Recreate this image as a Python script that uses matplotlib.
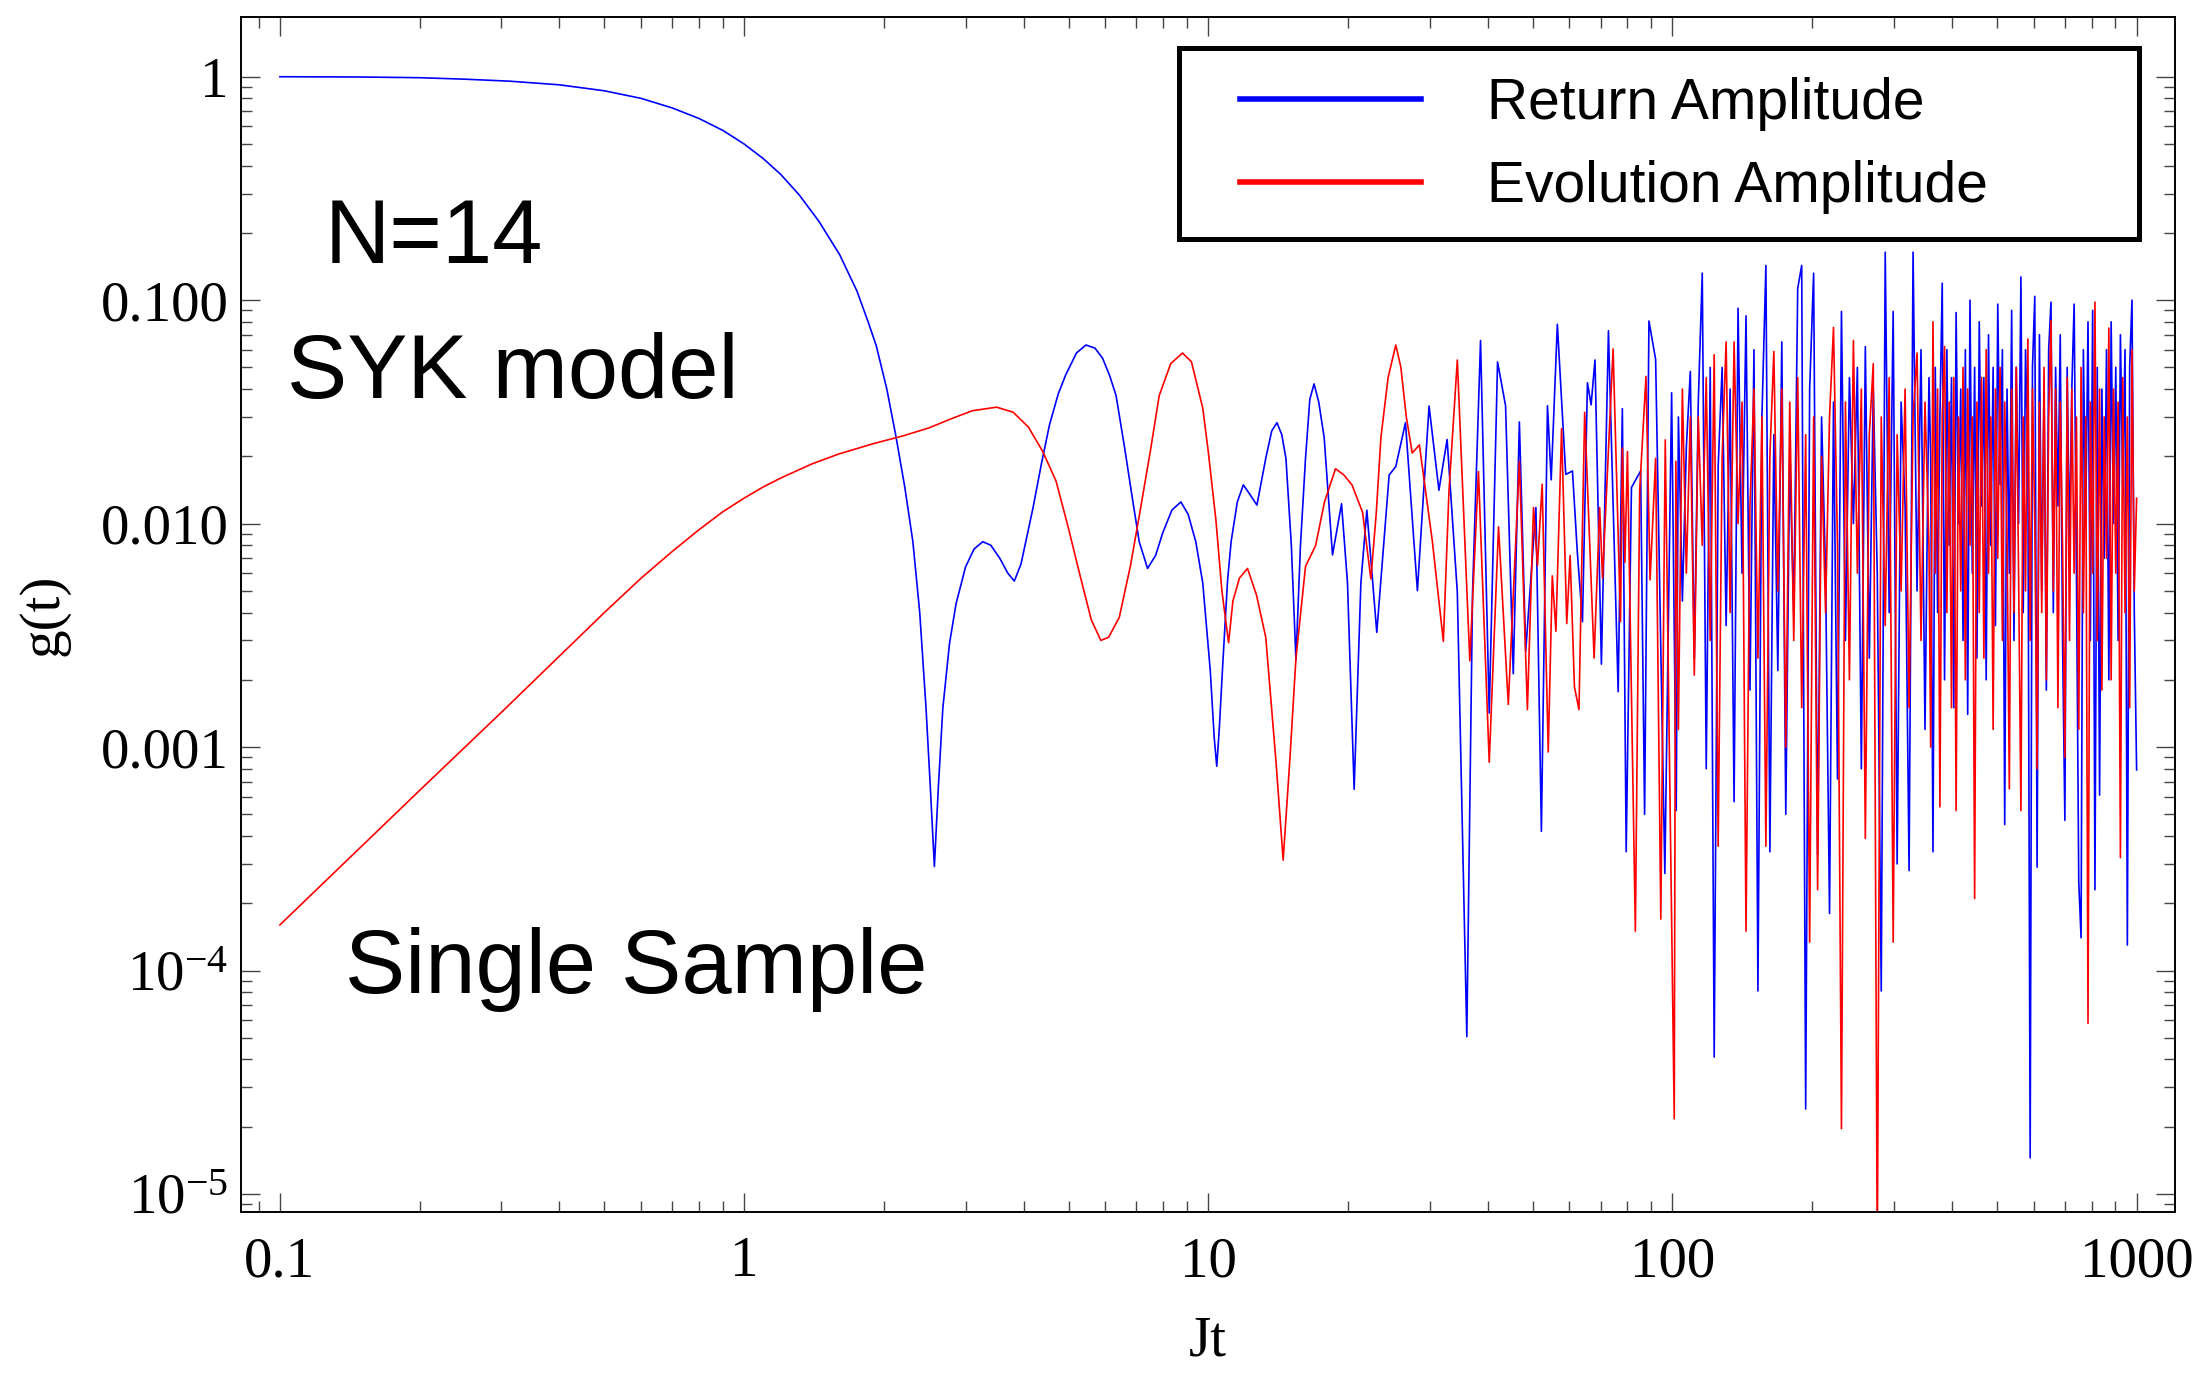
import numpy as np
import matplotlib.pyplot as plt
from matplotlib.patches import Rectangle
from matplotlib.ticker import LogLocator, NullFormatter
from matplotlib.font_manager import FontProperties

plt.rcParams['mathtext.fontset'] = 'custom'
plt.rcParams['mathtext.rm'] = 'Liberation Serif'
plt.rcParams['mathtext.it'] = 'Liberation Serif:italic'

# ---- data ----
# Return amplitude, smooth part and sparse oscillations (t, g) point by point
t_ret = [0.1, 0.15, 0.2, 0.25, 0.313, 0.4, 0.5, 0.6, 0.7, 0.8, 0.9, 1.0, 1.1, 1.2,
         1.316, 1.45, 1.606, 1.75, 1.85, 1.926, 2.03, 2.126, 2.22, 2.31, 2.39, 2.466,
         2.52, 2.57, 2.62, 2.68, 2.77, 2.862, 3.0, 3.13, 3.268, 3.4, 3.55, 3.7, 3.821,
         3.95, 4.19, 4.37, 4.55, 4.75, 4.93, 5.2, 5.45, 5.7, 5.92, 6.13, 6.33, 6.6,
         6.87, 7.1, 7.40, 7.7, 7.98, 8.35, 8.73, 9.05, 9.4, 9.73, 10.1, 10.3, 10.43,
         10.56, 10.74, 11.0, 11.2, 11.55, 11.9, 12.3, 12.73, 13.3, 13.7, 14.06, 14.4,
         14.7, 15.1, 15.45, 15.8, 16.2, 16.55, 16.9, 17.3, 17.77, 18.52, 19.37, 19.95,
         20.62, 21.32, 21.96, 23.07, 24.53, 25.35, 26.6, 28.22, 29.9, 31.4, 32.7,
         34.4, 36.06, 37.1, 38.6, 40.3, 42.0, 43.7, 45.4, 46.8, 48.3, 50.8, 52.2,
         53.8, 54.8, 56.5, 58.9, 60.9, 62.4, 64.0, 65.6, 66.8, 68.1, 70.3, 72.8,
         76.4, 78.0, 79.5, 81.6, 85.4, 87.1, 89.0, 92.0, 96.3, 99.6, 101.9]
g_ret = [1.0, 0.997, 0.99, 0.975, 0.955, 0.92, 0.865, 0.80, 0.725, 0.65, 0.575, 0.50,
         0.43, 0.365, 0.295, 0.225, 0.160, 0.110, 0.080, 0.0626, 0.040, 0.0243,
         0.0145, 0.0083, 0.0040, 0.00149, 0.00065, 0.000292, 0.00065, 0.00149, 0.0029,
         0.00438, 0.0064, 0.0077, 0.0083, 0.0080, 0.00703, 0.0060, 0.00553, 0.0066,
         0.0117, 0.0185, 0.0277, 0.038, 0.0463, 0.058, 0.063, 0.061, 0.055, 0.046,
         0.0374, 0.022, 0.0128, 0.0083, 0.0063, 0.0072, 0.0091, 0.0115, 0.0125, 0.011,
         0.0083, 0.00543, 0.0022, 0.0011, 0.00082, 0.0012, 0.0023, 0.0055, 0.0083,
         0.0125, 0.0149, 0.0135, 0.0121, 0.0196, 0.026, 0.0283, 0.025, 0.0196, 0.008,
         0.00245, 0.008, 0.0196, 0.036, 0.0422, 0.035, 0.0243, 0.00724, 0.01227,
         0.00542, 0.000647, 0.00542, 0.01148, 0.00326, 0.0165, 0.0180, 0.0283, 0.00501,
         0.0336, 0.0141, 0.0238, 0.00493, 0.0000506, 0.00493, 0.066, 0.00142, 0.0529,
         0.0337, 0.00213, 0.0285, 0.00269, 0.0118, 0.00042, 0.0337, 0.0157, 0.078,
         0.0166, 0.0172, 0.0074, 0.00364, 0.0427, 0.034, 0.054, 0.00235, 0.073,
         0.00177, 0.0327, 0.00034, 0.0145, 0.0172, 0.0005, 0.0807, 0.0543, 0.000272,
         0.0385, 0.00052]

# Evolution amplitude, smooth part and sparse oscillations
t_evo = [0.1, 0.15, 0.2, 0.3, 0.4, 0.5, 0.6, 0.7, 0.8, 0.9, 1.0, 1.1, 1.2, 1.4, 1.6,
         1.9, 2.2, 2.5, 2.8, 3.1, 3.5, 3.8, 4.1, 4.4, 4.7, 5.0, 5.3, 5.6, 5.87, 6.1,
         6.43, 6.8, 7.1, 7.5, 7.84, 8.3, 8.8, 9.2, 9.73, 10.0, 10.39, 10.7, 11.06,
         11.3, 11.67, 12.15, 12.7, 13.3, 14.0, 14.5, 15.0, 15.45, 16.2, 17.03, 17.8,
         18.8, 19.6, 20.4, 21.5, 22.4, 23.0, 23.55, 24.4, 25.35, 26.0, 26.7, 27.5,
         28.5, 30.4, 32.1, 33.0, 34.4, 36.6, 38.2, 40.3, 42.2, 44.3, 46.8, 48.7, 50.2,
         51.2, 52.4, 54.0, 55.1, 56.1, 57.7, 59.2, 60.2, 61.5, 62.9, 64.7, 67.8, 69.7,
         70.7, 74.5, 77.3, 78.0, 79.0, 80.0, 83.2, 85.0, 87.7, 89.5, 92.0, 94.4, 96.5,
         100.9, 101.7]
g_evo = [0.00016, 0.00036, 0.00064, 0.00143, 0.00255, 0.0040, 0.0057, 0.0075, 0.0094,
         0.0113, 0.0130, 0.0146, 0.0160, 0.0185, 0.0205, 0.0228, 0.0247, 0.0268,
         0.0295, 0.0320, 0.0332, 0.0315, 0.0270, 0.021, 0.0155, 0.0095, 0.0058,
         0.0037, 0.0030, 0.0031, 0.0038, 0.0065, 0.0108, 0.021, 0.0374, 0.052, 0.058,
         0.053, 0.0329, 0.021, 0.0103, 0.005, 0.00293, 0.0045, 0.0057, 0.0063, 0.0048,
         0.0031, 0.00085, 0.000312, 0.0009, 0.0025, 0.00643, 0.00797, 0.0125, 0.0176,
         0.0165, 0.0149, 0.01124, 0.00566, 0.011, 0.0243, 0.045, 0.063, 0.05, 0.0302,
         0.0207, 0.0225, 0.0083, 0.00297, 0.0139, 0.054, 0.00243, 0.0171, 0.000855,
         0.00968, 0.00155, 0.019, 0.00147, 0.0118, 0.0065, 0.015, 0.00095, 0.00584,
         0.0033, 0.0266, 0.00357, 0.0072, 0.00186, 0.00147, 0.0315, 0.0025, 0.0118,
         0.0057, 0.0605, 0.00364, 0.0218, 0.0067, 0.021, 0.00015, 0.014, 0.0456,
         0.0056, 0.0196, 0.00017, 0.0237, 0.0000217, 0.019]

# dense part: values read at evenly spaced pixel columns
dense1_range = (103, 357)
dense2_range = (360, 1000)

g_ret_dense1 = [0.030, 0.0045, 0.022, 0.048, 0.0025, 0.035, 0.132, 0.0008, 0.050,
                0.000041, 0.018, 0.050, 0.0035, 0.040, 0.00057, 0.092, 0.006, 0.085,
                0.0018, 0.060, 0.000081, 0.030, 0.143, 0.00034, 0.025, 0.0022, 0.065,
                0.0005, 0.020, 0.004, 0.113, 0.143, 0.000024, 0.040, 0.132, 0.00033,
                0.030, 0.006, 0.00018, 0.035, 0.00072, 0.089, 0.003, 0.045, 0.010,
                0.050, 0.0008, 0.062, 0.0025, 0.040, 0.006, 0.000081, 0.164, 0.004,
                0.089, 0.0003, 0.035, 0.012, 0.00028, 0.164, 0.005, 0.060, 0.0012, 0.045]
g_evo_dense1 = [0.0012, 0.040, 0.006, 0.030, 0.0021, 0.030, 0.008, 0.045, 0.003, 0.057,
                0.00036, 0.020, 0.065, 0.004, 0.065, 0.010, 0.035, 0.00015, 0.012,
                0.040, 0.0025, 0.030, 0.00036, 0.020, 0.059, 0.005, 0.040, 0.001, 0.035,
                0.003, 0.045, 0.0015, 0.025, 0.000134, 0.030, 0.00023, 0.020, 0.004,
                0.030, 0.0755, 0.008, 0.0000196, 0.035, 0.002, 0.066, 0.006, 0.040,
                0.00039, 0.025, 0.052, 0.000005, 0.030, 0.0035, 0.045, 0.000134, 0.025,
                0.005, 0.040, 0.0015, 0.030, 0.058, 0.003, 0.035, 0.008]

g_ret_dense2 = [0.02, 0.00034, 0.05, 0.004, 0.03, 0.119, 0.002, 0.06, 0.008, 0.045,
                0.0015, 0.088, 0.01, 0.04, 0.003, 0.06, 0.0014, 0.10, 0.006, 0.05,
                0.0025, 0.08, 0.012, 0.045, 0.002, 0.07, 0.008, 0.05, 0.0035, 0.096,
                0.015, 0.06, 0.00045, 0.04, 0.006, 0.09, 0.003, 0.05, 0.01, 0.127,
                0.004, 0.06, 0.02, 0.0000145, 0.05, 0.104, 0.00029, 0.07, 0.005, 0.04,
                0.0018, 0.06, 0.098, 0.004, 0.05, 0.012, 0.07, 0.003, 0.00047, 0.05,
                0.008, 0.04, 0.096, 0.006, 0.00025, 0.00014, 0.06, 0.01, 0.08, 0.003,
                0.09, 0.00023, 0.05, 0.00061, 0.04, 0.007, 0.06, 0.002, 0.08, 0.01,
                0.05, 0.003, 0.07, 0.015, 0.06, 0.00013, 0.05, 0.10, 0.004, 0.00079]
g_evo_dense2 = [0.001, 0.08, 0.006, 0.04, 0.00054, 0.03, 0.062, 0.004, 0.035, 0.0015,
                0.045, 0.00052, 0.03, 0.005, 0.05, 0.002, 0.04, 0.008, 0.03, 0.00021,
                0.035, 0.004, 0.045, 0.0025, 0.06, 0.006, 0.03, 0.0012, 0.04, 0.007,
                0.05, 0.003, 0.035, 0.009, 0.00065, 0.04, 0.004, 0.05, 0.006, 0.00052,
                0.03, 0.005, 0.067, 0.003, 0.04, 0.01, 0.0008, 0.035, 0.004, 0.05,
                0.002, 0.03, 0.081, 0.005, 0.04, 0.0015, 0.035, 0.008, 0.0009, 0.045,
                0.003, 0.04, 0.006, 0.03, 0.0012, 0.05, 0.004, 0.03, 0.000058, 0.035,
                0.006, 0.098, 0.003, 0.04, 0.0018, 0.03, 0.007, 0.075, 0.002, 0.04,
                0.006, 0.035, 0.00032, 0.045, 0.004, 0.03, 0.0015, 0.06, 0.005, 0.013]

x_ticks = [0.1, 1, 10, 100, 1000]
x_ticklabels = ['0.1', '1', '10', '100', '1000']
y_ticks = [1, 0.1, 0.01, 0.001, 1e-4, 1e-5]
y_ticklabels = ['1', '0.100', '0.010', '0.001', r'$10^{-4}$', r'$10^{-5}$']


def assemble(t_sparse, g_sparse, g_d1, g_d2):
    t = np.concatenate([t_sparse,
                        np.geomspace(*dense1_range, len(g_d1)),
                        np.geomspace(*dense2_range, len(g_d2))])
    g = np.concatenate([g_sparse, g_d1, g_d2])
    return t, g


t_r, g_r = assemble(t_ret, g_ret, g_ret_dense1, g_ret_dense2)
t_e, g_e = assemble(t_evo, g_evo, g_evo_dense1, g_evo_dense2)

fig = plt.figure(figsize=(22, 13.73), dpi=100)
ax = fig.add_axes([0.1095, 0.1169, 0.879, 0.8707])

l_ret, = ax.plot(t_r, g_r, color='#0000ff', lw=1.2)
l_evo, = ax.plot(t_e, g_e, color='#ff0000', lw=1.2)

ax.set_xscale('log')
ax.set_yscale('log')
ax.set_xlim(0.0824, 1208)
ax.set_ylim(8.26e-6, 1.85)

serif = 'Liberation Serif'
ax.set_xticks(x_ticks, labels=x_ticklabels)
ax.set_yticks(y_ticks, labels=y_ticklabels)
for ax_ in (ax.xaxis, ax.yaxis):
    ax_.set_minor_locator(LogLocator(base=10, subs=np.arange(2, 10), numticks=30))
    ax_.set_minor_formatter(NullFormatter())
for lab in ax.get_xticklabels() + ax.get_yticklabels():
    lab.set_fontfamily(serif)
    lab.set_fontsize(41)

ax.tick_params(which='both', direction='in', top=True, right=True,
               color='#444444', width=1.0)
ax.tick_params(which='major', length=13.7)
ax.tick_params(which='minor', length=7.9)
ax.tick_params(axis='x', which='major', pad=17)
ax.tick_params(axis='y', which='major', pad=9)
for s in ax.spines.values():
    s.set_linewidth(1.4)
    s.set_color('black')

ax.set_xlabel('Jt', fontfamily=serif, fontsize=41)
ax.set_ylabel('g(t)', fontfamily=serif, fontsize=41)
ax.xaxis.set_label_coords(0.5, -0.086)
ax.yaxis.set_label_coords(-0.0884, 0.5)

sans = 'Liberation Sans'
ax.text(0.0434, 0.7939, 'N=14', transform=ax.transAxes, fontfamily=sans, fontsize=65,
        ha='left', va='baseline')
ax.text(0.0238, 0.6813, 'SYK model', transform=ax.transAxes, fontfamily=sans,
        fontsize=65, ha='left', va='baseline')
ax.text(0.0540, 0.1832, 'Single Sample', transform=ax.transAxes, fontfamily=sans,
        fontsize=65, ha='left', va='baseline')

# legend: thick square frame drawn separately, entries via ax.legend
frame = Rectangle((0.4853, 0.8147), 0.4963, 0.1598, transform=ax.transAxes,
                  facecolor='white', edgecolor='black', lw=3.6, zorder=4)
ax.add_patch(frame)
leg = ax.legend([l_ret, l_evo], ['Return Amplitude', 'Evolution Amplitude'],
                loc='upper left', bbox_to_anchor=(0.5165, 0.9500), frameon=False,
                borderpad=0, borderaxespad=0, handlelength=3.18, handletextpad=1.17,
                labelspacing=0.52, prop=FontProperties(family=sans, size=41))
leg.set_zorder(5)
for h in leg.legend_handles:
    h.set_linewidth(4.0)

fig.savefig('out.png', dpi=100)
